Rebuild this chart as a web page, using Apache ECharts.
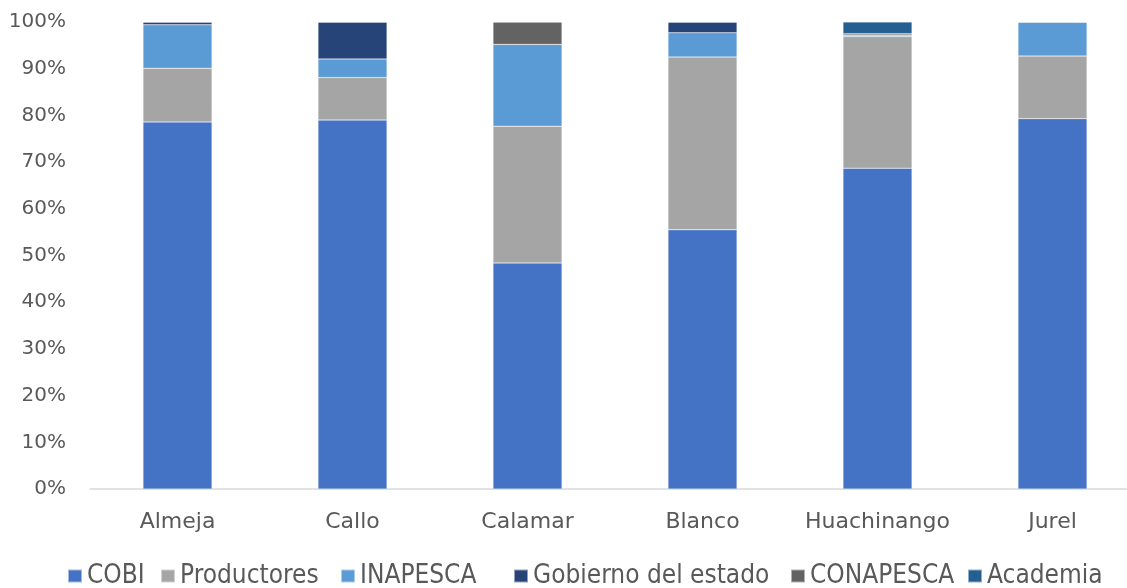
<!DOCTYPE html>
<html><head><meta charset="utf-8">
<script src="https://cdn.jsdelivr.net/npm/echarts@6/dist/echarts.min.js"></script>
<style>html,body{margin:0;padding:0;background:#fff;overflow:hidden;width:1127px;height:588px}#c{width:1145px;height:588px}</style>
</head><body><div id="c"></div>
<script>
const categories = ['Almeja','Callo','Calamar','Blanco','Huachinango','Jurel'];
const seriesNames = ['COBI','Productores','INAPESCA','Gobierno del estado','CONAPESCA','Academia'];
const cobi        = [78.6, 79.0, 48.4, 55.5, 68.7, 79.3];
const productores = [11.5,  9.1, 29.3, 37.0, 28.2, 13.4];
const inapesca    = [ 9.3,  4.0, 17.5,  5.2,  0.3,  7.3];
const gobierno    = [ 0.6,  7.9,  0.0,  2.3,  0.0,  0.0];
const conapesca   = [ 0.0,  0.0,  4.8,  0.0,  0.3,  0.0];
const academia    = [ 0.0,  0.0,  0.0,  0.0,  2.5,  0.0];
const yTicks = [0,10,20,30,40,50,60,70,80,90,100];

const colors = ['#4472C4','#A5A5A5','#5B9BD5','#264478','#636363','#255E91'];
const values = [cobi, productores, inapesca, gobierno, conapesca, academia];
const legendLeft = [67, 160, 340, 513, 790, 967];

const legendText = {fontFamily:'DejaVu Sans Condensed', fontSize:26, color:'#595959'};
const chart = echarts.init(document.getElementById('c'), null, {renderer:'canvas'});
chart.setOption({
  animation:false,
  color: colors,
  grid:{left:90, top:22, width:1050, height:467},
  legend: seriesNames.map((n,i)=>({data:[n], left:legendLeft[i], top:563, padding:0,
    icon:'rect', itemWidth:14, itemHeight:13, textStyle:legendText})),
  xAxis:{type:'category', data:categories,
    axisLine:{lineStyle:{color:'#D9D9D9', width:1.5}}, axisTick:{show:false},
    axisLabel:{interval:0, fontFamily:'DejaVu Sans', fontSize:22, color:'#595959', margin:22}},
  yAxis:{type:'value', min:0, max:100, interval:10,
    axisLine:{show:false}, axisTick:{show:false}, splitLine:{show:false},
    axisLabel:{fontFamily:'DejaVu Sans', fontSize:20, color:'#595959', margin:24,
      formatter:v=> yTicks.includes(v) ? v+'%' : ''}},
  series: seriesNames.map((n,i)=>({
    name:n, type:'bar', stack:'total', barWidth:69, data:values[i],
    itemStyle:{color:colors[i], borderColor:'rgba(255,255,255,0.5)', borderWidth:0.5}
  }))
});
</script></body></html>
